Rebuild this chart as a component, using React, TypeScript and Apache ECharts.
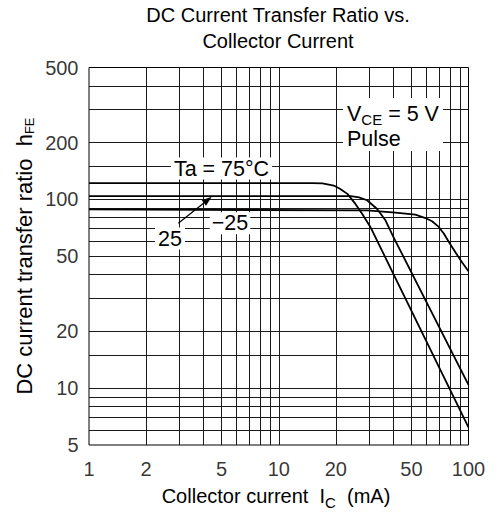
import React, { useEffect, useRef } from "react";
import * as echarts from "echarts";

// Axis tick labels and grid lines
const xTickLabels = [1, 2, 5, 10, 20, 50, 100];
const yTickLabels = [5, 10, 20, 50, 100, 200, 500];
const xGridValues = [2, 3, 4, 5, 6, 7, 8, 9, 10, 20, 30, 40, 50, 60, 70, 80, 90];
const yGridValues = [6, 7, 8, 9, 10, 15, 20, 30, 40, 50, 60, 70, 80, 90, 100, 150, 200, 300, 400];

// Ta = 75 °C
const icTa75 = [1, 15, 17, 19.5, 21, 23, 25.3, 27.5, 30.4, 100];
const hfeTa75 = [122, 122, 121.5, 118.5, 114, 107, 95, 84, 71.5, 6.2];

// Ta = 25 °C
const icTa25 = [1, 24, 26.5, 29.2, 33, 36.5, 40.3, 100];
const hfeTa25 = [104, 104, 102.5, 99, 89, 77.5, 63, 10.4];

// Ta = -25 °C
const icTaM25 = [1, 29.2, 41.2, 52.5, 59.3, 64.3, 69.7, 74.1, 78.8, 85.3, 92.6, 100];
const hfeTaM25 = [88.5, 87.5, 85.2, 83.1, 79.7, 76.6, 71.5, 66, 59.5, 52.5, 46.3, 41.6];

const FONT = "'Liberation Sans', Arial, Helvetica, sans-serif";

const pair = (xs: number[], ys: number[]) => xs.map((x, i) => [x, ys[i]]);

export default function App() {
  const ref = useRef<HTMLDivElement>(null);

  useEffect(() => {
    document.body.style.margin = "0";
    const chart = echarts.init(ref.current!, null, { renderer: "svg" });

    const curve = (name: string, xs: number[], ys: number[]) => ({
      type: "line",
      name,
      data: pair(xs, ys),
      showSymbol: false,
      smooth: false,
      lineStyle: { color: "#000", width: 1.8, join: "round" },
      silent: true,
      z: 5,
    });

    const arrowTip = [211.7, 196.7];
    const arrowTail = [178.3, 223.3];
    const dx = arrowTip[0] - arrowTail[0];
    const dy = arrowTip[1] - arrowTail[1];
    const len = Math.sqrt(dx * dx + dy * dy);
    const ux = dx / len;
    const uy = dy / len;
    const headLen = 10;
    const headHalf = 3.5;
    const bx = arrowTip[0] - ux * headLen;
    const by = arrowTip[1] - uy * headLen;

    const ANN = 21.5;

    const option: any = {
      animation: false,
      backgroundColor: "#fff",
      grid: {
        left: 89,
        top: 67.5,
        width: 379.5,
        height: 377.5,
        show: true,
        borderColor: "#000",
        borderWidth: 1,
        backgroundColor: "#fff",
      },
      xAxis: {
        type: "log",
        logBase: 10,
        min: 1,
        max: 100,
        axisLabel: { show: false },
        axisTick: { show: false },
        axisLine: { show: false },
        splitLine: { show: false },
        minorSplitLine: { show: false },
      },
      yAxis: {
        type: "log",
        logBase: 10,
        min: 5,
        max: 500,
        axisLabel: { show: false },
        axisTick: { show: false },
        axisLine: { show: false },
        splitLine: { show: false },
        minorSplitLine: { show: false },
      },
      series: [
        {
          type: "scatter",
          name: "xticks",
          data: xTickLabels.map((v) => [v, 5]),
          symbolSize: 1,
          clip: false,
          silent: true,
          itemStyle: { color: "rgba(0,0,0,0)" },
          label: {
            show: true,
            position: "bottom",
            distance: 13,
            formatter: (p: any) => String(p.value[0]),
            fontSize: 20,
            lineHeight: 20,
            fontFamily: FONT,
            color: "#000",
          },
          markLine: {
            silent: true,
            symbol: ["none", "none"],
            label: { show: false },
            lineStyle: { color: "#1a1a1a", width: 1, type: "solid" },
            emphasis: { disabled: true },
            data: [
              ...xGridValues.map((v) => ({ xAxis: v })),
              ...yGridValues.map((v) => ({ yAxis: v })),
            ],
          },
          z: 3,
        },
        {
          type: "scatter",
          name: "yticks",
          data: yTickLabels.map((v) => [1, v]),
          symbolSize: 1,
          clip: false,
          silent: true,
          itemStyle: { color: "rgba(0,0,0,0)" },
          label: {
            show: true,
            position: "left",
            distance: 10,
            formatter: (p: any) => String(p.value[1]),
            fontSize: 20,
            lineHeight: 20,
            fontFamily: FONT,
            color: "#000",
          },
          z: 3,
        },
        curve("Ta = 75°C", icTa75, hfeTa75),
        curve("Ta = 25°C", icTa25, hfeTa25),
        curve("Ta = -25°C", icTaM25, hfeTaM25),
      ],
      graphic: [
        {
          type: "text",
          x: 278,
          y: 28,
          z: 100,
          style: {
            text: "DC Current Transfer Ratio vs.\nCollector Current",
            fontSize: 20,
            fontFamily: FONT,
            fill: "#000",
            align: "center",
            verticalAlign: "middle",
            lineHeight: 25.5,
          },
        },
        {
          type: "text",
          x: 24,
          y: 256,
          rotation: Math.PI / 2,
          z: 100,
          style: {
            text: "{n|DC current transfer ratio  h}{s|FE}",
            align: "center",
            verticalAlign: "middle",
            fill: "#000",
            rich: {
              n: { fontSize: 22, fontFamily: FONT, lineHeight: 26, fill: "#000" },
              s: { fontSize: 13, fontFamily: FONT, lineHeight: 13, padding: [11, 0, 0, 0], fill: "#000" },
            },
          },
        },
        {
          type: "text",
          x: 276,
          y: 496,
          z: 100,
          style: {
            text: "{n|Collector current  I}{s|C}{n|  (mA)}",
            align: "center",
            verticalAlign: "middle",
            fill: "#000",
            rich: {
              n: { fontSize: 20, fontFamily: FONT, lineHeight: 24, fill: "#000" },
              s: { fontSize: 15, fontFamily: FONT, lineHeight: 15, padding: [13, 0, 0, 0], fill: "#000" },
            },
          },
        },
        {
          type: "rect",
          z: 99,
          shape: { x: 343, y: 98, width: 100, height: 53 },
          style: { fill: "#fff" },
        },
        {
          type: "text",
          x: 347,
          y: 113.5,
          z: 100,
          style: {
            text: "{n|V}{s|CE}{n| = 5 V}",
            align: "left",
            verticalAlign: "middle",
            fill: "#000",
            rich: {
              n: { fontSize: ANN, fontFamily: FONT, lineHeight: 24, fill: "#000" },
              s: { fontSize: 15, fontFamily: FONT, lineHeight: 15, padding: [11, 0, 0, 0], fill: "#000" },
            },
          },
        },
        {
          type: "text",
          x: 347,
          y: 138.5,
          z: 100,
          style: {
            text: "Pulse",
            fontSize: ANN,
            fontFamily: FONT,
            fill: "#000",
            align: "left",
            verticalAlign: "middle",
          },
        },
        {
          type: "text",
          x: 221.5,
          y: 168.5,
          z: 100,
          style: {
            text: "Ta = 75°C",
            fontSize: ANN,
            fontFamily: FONT,
            fill: "#000",
            align: "center",
            verticalAlign: "middle",
            backgroundColor: "#fff",
            padding: [0, 3, 0, 3],
          },
        },
        {
          type: "text",
          x: 170,
          y: 238.5,
          z: 100,
          style: {
            text: "25",
            fontSize: ANN,
            fontFamily: FONT,
            fill: "#000",
            align: "center",
            verticalAlign: "middle",
            backgroundColor: "#fff",
            padding: [0, 3, 0, 3],
          },
        },
        {
          type: "text",
          x: 230,
          y: 223.3,
          z: 100,
          style: {
            text: "\u221225",
            fontSize: ANN,
            fontFamily: FONT,
            fill: "#000",
            align: "center",
            verticalAlign: "middle",
            backgroundColor: "#fff",
            padding: [0, 2, 0, 2],
          },
        },
        {
          type: "line",
          z: 101,
          shape: { x1: arrowTail[0], y1: arrowTail[1], x2: bx, y2: by },
          style: { stroke: "#000", lineWidth: 1.2 },
        },
        {
          type: "polygon",
          z: 101,
          shape: {
            points: [
              [arrowTip[0], arrowTip[1]],
              [bx - uy * headHalf, by + ux * headHalf],
              [bx + uy * headHalf, by - ux * headHalf],
            ],
          },
          style: { fill: "#000" },
        },
      ],
    };

    chart.setOption(option);
    return () => chart.dispose();
  }, []);

  return (
    <div
      ref={ref}
      style={{ position: "fixed", left: 0, top: 0, width: 501, height: 518, background: "#fff" }}
    />
  );
}
